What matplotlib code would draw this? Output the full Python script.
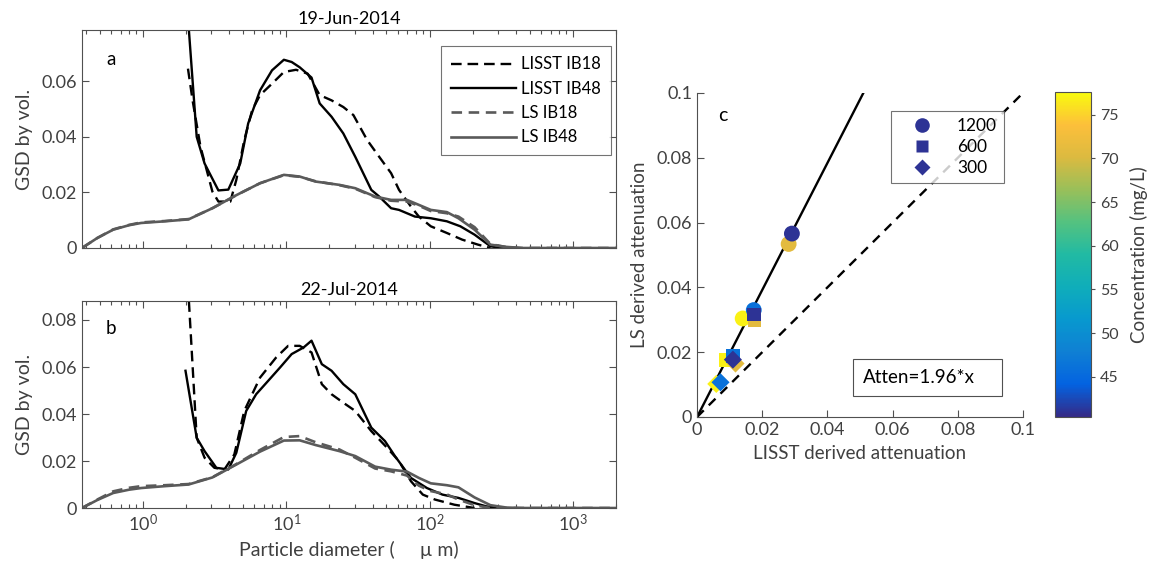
import numpy as np
import matplotlib.pyplot as plt
from matplotlib.colors import LinearSegmentedColormap, Normalize
from matplotlib.lines import Line2D
from matplotlib.patches import Rectangle
from matplotlib.ticker import LogLocator, NullFormatter

plt.rcParams['font.family'] = ['Lato', 'DejaVu Sans']
plt.rcParams['mathtext.default'] = 'regular'

# -----------------------------
# Panel a (19-Jun-2014) data
# -----------------------------
a_lisst18_d = [2.06, 2.22, 2.52, 3.05, 3.36, 4.07, 4.48, 5.09, 5.78, 6.56, 7.95, 9.62,
               11.7, 14.1, 17.1, 20.7, 25.0, 29.4, 36.7, 44.5, 53.9, 61.2, 74.1, 84.2,
               102, 132, 169, 218, 266]
a_lisst18_v = [0.0645, 0.053, 0.0364, 0.0203, 0.0167, 0.0167, 0.0245, 0.0388, 0.0496,
               0.055, 0.0591, 0.0633, 0.0641, 0.0627, 0.055, 0.0531, 0.0507, 0.0478,
               0.0388, 0.0328, 0.0269, 0.0209, 0.0149, 0.0113, 0.0078, 0.0054, 0.003,
               0.0012, 0.0]

a_lisst48_d = [1.98, 2.37, 2.69, 3.36, 3.94, 4.77, 5.42, 6.56, 7.95, 9.62, 10.9, 12.4,
               15.0, 17.1, 20.7, 25.0, 30.3, 39.2, 44.5, 53.9, 61.2, 79.0, 102, 132,
               164, 206, 266, 321]
a_lisst48_v = [0.095, 0.040, 0.0304, 0.0207, 0.021, 0.0304, 0.0448, 0.0567, 0.0639,
               0.0677, 0.0669, 0.065, 0.0613, 0.052, 0.0472, 0.0412, 0.0328, 0.0209,
               0.0185, 0.0143, 0.0137, 0.0113, 0.0107, 0.0096, 0.0078, 0.0048, 0.0006,
               0.0]

# LS instrument bins (shared by both dates)
ls_d = [0.375, 0.48, 0.62, 0.8, 0.97, 1.42, 2.08, 3.05, 4.48, 6.56, 9.62, 12.4, 16.0,
        23.5, 30.3, 41.7, 53.9, 69.5, 84.2, 102, 132, 159, 206, 266, 343, 442, 2000]

a_ls18_v = [0, 0.0036, 0.0067, 0.0083, 0.0092, 0.0097, 0.0104, 0.0143, 0.019, 0.0233,
            0.0262, 0.0256, 0.024, 0.0226, 0.0213, 0.0183, 0.017, 0.0167, 0.0152,
            0.0133, 0.0125, 0.0113, 0.0075, 0.0014, 0.0003, 0, 0]
a_ls48_v = [0, 0.0036, 0.0066, 0.0082, 0.009, 0.0096, 0.0103, 0.0143, 0.019, 0.0233,
            0.0263, 0.0257, 0.0239, 0.0227, 0.0215, 0.0185, 0.0173, 0.0173, 0.0155,
            0.0137, 0.0129, 0.0107, 0.0066, 0.0012, 0.0004, 0, 0]

# -----------------------------
# Panel b (22-Jul-2014) data
# -----------------------------
b_lisst18_d = [2.06, 2.37, 2.69, 3.15, 3.70, 4.34, 5.09, 6.56, 8.48, 10.3, 12.4, 15.0,
               17.7, 20.7, 25.0, 30.3, 39.2, 50.6, 61.2, 74.1, 89.7, 109, 149, 206]
b_lisst18_v = [0.095, 0.0299, 0.0214, 0.0171, 0.0164, 0.0228, 0.0413, 0.0555, 0.064,
               0.069, 0.069, 0.0662, 0.0527, 0.0484, 0.0448, 0.0413, 0.0327, 0.0256,
               0.0199, 0.0114, 0.0057, 0.0036, 0.0014, 0.0]

b_lisst48_d = [1.98, 2.37, 2.69, 3.25, 3.94, 4.48, 5.25, 6.16, 7.47, 9.05, 10.9, 13.2,
               15.0, 17.7, 20.7, 25.0, 30.3, 39.2, 48.8, 57.3, 74.1, 95.8, 123, 159,
               206, 249, 302]
b_lisst48_v = [0.0584, 0.0299, 0.0242, 0.0171, 0.0164, 0.0235, 0.0413, 0.0484, 0.0541,
               0.0598, 0.0655, 0.0683, 0.0712, 0.0612, 0.0584, 0.0527, 0.0484, 0.0342,
               0.0285, 0.0221, 0.0128, 0.0085, 0.0057, 0.0043, 0.0021, 0.0007, 0.0]

b_ls18_v = [0, 0.0036, 0.0071, 0.0086, 0.0093, 0.0097, 0.0102, 0.0131, 0.0187, 0.0247,
            0.0302, 0.0306, 0.028, 0.0249, 0.0214, 0.0168, 0.0156, 0.0138, 0.0095,
            0.0072, 0.0058, 0.0036, 0.0012, 0, 0, 0, 0]
b_ls48_v = [0, 0.0034, 0.0064, 0.0078, 0.0085, 0.0093, 0.010, 0.013, 0.0185, 0.024,
            0.0287, 0.0288, 0.0268, 0.0242, 0.0221, 0.0176, 0.0163, 0.0155, 0.0128,
            0.0105, 0.0097, 0.0088, 0.0045, 0.0012, 0.0002, 0, 0]

# -----------------------------
# Panel c data (attenuation)
# -----------------------------
conc = [77, 71, 46, 41]   # mg/L, one per sample
c1200_x = [0.0140, 0.0281, 0.0174, 0.0291]
c1200_y = [0.0304, 0.0534, 0.0330, 0.0566]
c600_x = [0.0087, 0.0176, 0.0110, 0.0174]
c600_y = [0.0176, 0.0300, 0.0189, 0.0317]
c300_x = [0.0059, 0.0118, 0.0072, 0.0110]
c300_y = [0.0102, 0.0165, 0.0107, 0.0177]
fit_slope = 1.96

# parula-like colormap
parula = LinearSegmentedColormap.from_list('parula', [
    (0.2081, 0.1663, 0.5292), (0.0117, 0.3875, 0.8820), (0.0600, 0.5000, 0.8300),
    (0.0300, 0.6000, 0.8100), (0.0600, 0.6800, 0.7300), (0.1300, 0.7300, 0.6400),
    (0.3300, 0.7600, 0.5000), (0.6000, 0.7500, 0.3500), (0.8600, 0.7300, 0.2500),
    (0.9900, 0.7500, 0.2300), (0.9763, 0.9831, 0.0538)])
norm = Normalize(vmin=40.4, vmax=77.6)

txt = '#404040'
spine = '#505050'
gray_line = '#5a5a5a'

fig = plt.figure(figsize=(11.51, 5.75), dpi=100)
ax_a = fig.add_axes([0.0712, 0.5687, 0.4640, 0.3791])
ax_b = fig.add_axes([0.0712, 0.1165, 0.4640, 0.3605])
ax_c = fig.add_axes([0.6056, 0.2748, 0.2832, 0.5635])
cax = fig.add_axes([0.9166, 0.2748, 0.0313, 0.5652])


def gsd_panel(ax, l18d, l18v, l48d, l48v, ls18, ls48, ymax, yticks, title, tag):
    ax.plot(l18d, l18v, color='k', lw=1.7, ls=(0, (4.5, 2.5)), label='LISST IB18')
    ax.plot(l48d, l48v, color='k', lw=1.7, label='LISST IB48')
    ax.plot(ls_d, ls18, color=gray_line, lw=1.9, ls=(0, (4, 2.5)), label='LS IB18')
    ax.plot(ls_d, ls48, color=gray_line, lw=1.9, label='LS IB48')
    ax.set_xscale('log')
    ax.set_xlim(0.375, 2000)
    ax.set_ylim(0, ymax)
    ax.set_yticks(yticks)
    ax.set_yticklabels(['0' if t == 0 else f'{t:.2f}' for t in yticks])
    ax.xaxis.set_major_locator(LogLocator(base=10, numticks=10))
    ax.xaxis.set_minor_locator(LogLocator(base=10, subs=np.arange(2, 10), numticks=20))
    ax.xaxis.set_minor_formatter(NullFormatter())
    ax.tick_params(which='both', direction='in', top=True, right=True,
                   colors=spine, labelcolor=txt, labelsize=13)
    ax.tick_params(which='major', length=5, width=0.8)
    ax.tick_params(which='minor', length=3, width=0.8)
    for s in ax.spines.values():
        s.set_color(spine)
        s.set_linewidth(0.8)
    ax.set_title(title, fontsize=13, color='k', pad=4)
    ax.set_ylabel('GSD by vol.', fontsize=14, color=txt, labelpad=6)
    ax.text(0.045, 0.84, tag, transform=ax.transAxes, fontsize=13.5, color='k')


gsd_panel(ax_a, a_lisst18_d, a_lisst18_v, a_lisst48_d, a_lisst48_v, a_ls18_v, a_ls48_v,
          0.0784, [0, 0.02, 0.04, 0.06], '19-Jun-2014', 'a')
ax_a.set_xticklabels([])
leg = ax_a.legend(loc='upper right', bbox_to_anchor=(0.99, 0.925), fontsize=12,
                  handlelength=3.9, handletextpad=0.3, labelspacing=0.5,
                  borderpad=0.6, borderaxespad=0, fancybox=False, frameon=True)
leg.get_frame().set_edgecolor(spine)
leg.get_frame().set_linewidth(0.8)
for t in leg.get_texts():
    t.set_color('k')

gsd_panel(ax_b, b_lisst18_d, b_lisst18_v, b_lisst48_d, b_lisst48_v, b_ls18_v, b_ls48_v,
          0.0882, [0, 0.02, 0.04, 0.06, 0.08], '22-Jul-2014', 'b')
ax_b.set_xlabel('Particle diameter (     µ m)', fontsize=14, color=txt, labelpad=5)

# -----------------------------
# Panel c
# -----------------------------
xx = np.array([0, 0.1])
ax_c.plot(xx, fit_slope * xx, color='k', lw=1.7)
ax_c.plot(xx, xx, color='k', lw=1.7, ls=(0, (4, 3)))
sc = ax_c.scatter(c1200_x, c1200_y, c=conc, cmap=parula, norm=norm, marker='o', s=130,
                  zorder=3, linewidths=0)
ax_c.scatter(c600_x, c600_y, c=conc, cmap=parula, norm=norm, marker='s', s=95,
             zorder=3, linewidths=0)
ax_c.scatter(c300_x, c300_y, c=conc, cmap=parula, norm=norm, marker='D', s=85,
             zorder=3, linewidths=0)
ax_c.set_xlim(0, 0.1)
ax_c.set_ylim(0, 0.1)
ticks_c = [0, 0.02, 0.04, 0.06, 0.08, 0.1]
labels_c = ['0', '0.02', '0.04', '0.06', '0.08', '0.1']
ax_c.set_xticks(ticks_c)
ax_c.set_xticklabels(labels_c)
ax_c.set_yticks(ticks_c)
ax_c.set_yticklabels(labels_c)
ax_c.spines['top'].set_visible(False)
ax_c.spines['right'].set_visible(False)
for s in ['left', 'bottom']:
    ax_c.spines[s].set_color(spine)
    ax_c.spines[s].set_linewidth(0.8)
ax_c.tick_params(direction='in', length=5, width=0.8, colors=spine, labelcolor=txt,
                 labelsize=13)
ax_c.set_xlabel('LISST derived attenuation', fontsize=13.5, color=txt, labelpad=5)
ax_c.set_ylabel('LS derived attenuation', fontsize=13.5, color=txt, labelpad=6)
ax_c.text(0.0065, 0.0915, 'c', fontsize=14, color='k')

navy = parula(norm(conc[-1]))
handles = [Line2D([], [], ls='none', marker='o', ms=10.5, color=navy, mec='none'),
           Line2D([], [], ls='none', marker='s', ms=9, color=navy, mec='none'),
           Line2D([], [], ls='none', marker='D', ms=8.5, color=navy, mec='none')]
leg_c = ax_c.legend(handles, ['1200', '600', '300'], loc='upper left',
                    bbox_to_anchor=(0.595, 0.945), fontsize=12.5, handlelength=2.8,
                    handletextpad=0.6, labelspacing=0.3, borderpad=0.4,
                    borderaxespad=0, fancybox=False, frameon=True)
leg_c.get_frame().set_edgecolor(spine)
leg_c.get_frame().set_linewidth(0.8)

ax_c.add_patch(Rectangle((0.0479, 0.0064), 0.0457, 0.0115, fill=False, ec=spine,
                         lw=0.8, zorder=4))
ax_c.text(0.0509, 0.0122, 'Atten=1.96*x', fontsize=13.5, color='k', va='center', zorder=5)

# -----------------------------
# Colorbar
# -----------------------------
cb = fig.colorbar(sc, cax=cax)
cb.set_ticks([45, 50, 55, 60, 65, 70, 75])
cb.ax.tick_params(direction='out', length=3, width=0.8, colors=spine, labelcolor=txt,
                  labelsize=11.5)
cb.outline.set_edgecolor(spine)
cb.outline.set_linewidth(0.8)
cb.set_label('Concentration (mg/L)', fontsize=13.5, color=txt, labelpad=8)

fig.savefig('out.png', dpi=100)
